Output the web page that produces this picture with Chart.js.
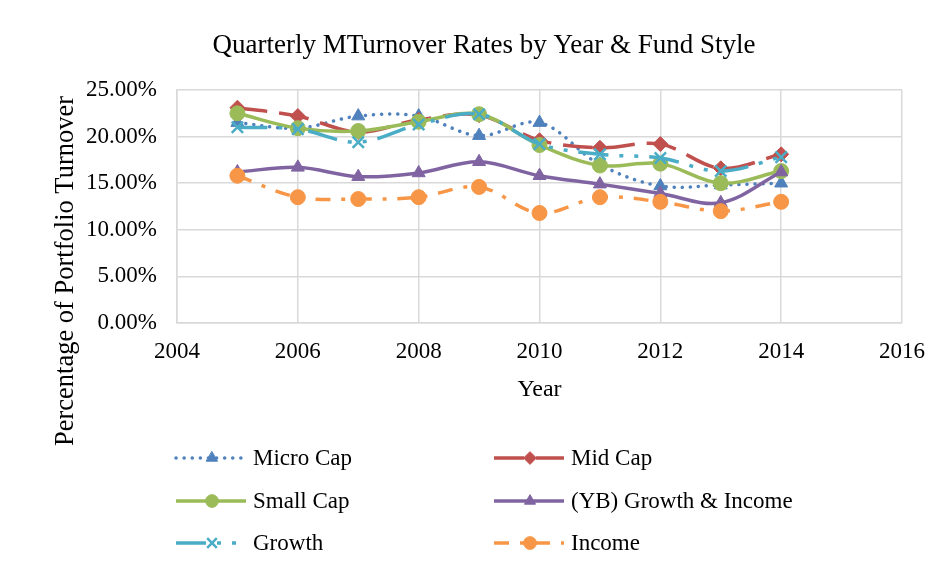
<!DOCTYPE html>
<html lang="en">
<head>
  <meta charset="UTF-8" />
  <title>Quarterly MTurnover Rates by Year & Fund Style</title>
  <script src="https://cdn.jsdelivr.net/npm/chart.js"></script>
  <style>
    body {
      margin: 0;
      padding: 0;
      background-color: #ffffff;
    }

    .chart-container {
      position: relative;
      width: 940px;
      height: 573px;
    }
  </style>
</head>
<body>
  <div class="chart-container">
    <canvas id="turnoverChart"></canvas>
  </div>

  <script>
    // Data (values in percent)
    const years = [2005, 2006, 2007, 2008, 2009, 2010, 2011, 2012, 2013, 2014];
    const microCap = [21.5, 20.9, 22.2, 22.2, 20.1, 21.5, 17.0, 14.7, 14.8, 15.0];
    const midCap = [23.1, 22.2, 20.5, 21.8, 22.3, 19.6, 18.8, 19.2, 16.6, 18.1];
    const smallCap = [22.5, 20.9, 20.6, 21.6, 22.4, 19.1, 16.9, 17.1, 15.0, 16.3];
    const ybGrowthIncome = [16.2, 16.7, 15.7, 16.1, 17.3, 15.8, 14.9, 13.9, 12.9, 16.2];
    const growth = [21.0, 20.8, 19.4, 21.3, 22.4, 19.2, 18.1, 17.7, 16.3, 17.8];
    const income = [15.8, 13.5, 13.3, 13.5, 14.6, 11.8, 13.5, 13.0, 12.0, 13.0];

    const seriesNames = ['Micro Cap', 'Mid Cap', 'Small Cap', '(YB) Growth & Income', 'Growth', 'Income'];
    const xTicks = [2004, 2006, 2008, 2010, 2012, 2014, 2016];
    const yTicks = [0, 5, 10, 15, 20, 25];

    const chartTitle = 'Quarterly MTurnover Rates by Year & Fund Style';
    const yTitle = 'Percentage of Portfolio Turnover';

    const FONT = '"Liberation Serif", "Times New Roman", serif';
    const GRID = '#d9d9d9';

    function toPoints(values) {
      return values.map((v, i) => ({ x: years[i], y: v }));
    }

    function makeSeries(index, values, color, dash, pointStyle, radius, cap) {
      return {
        label: seriesNames[index],
        data: toPoints(values),
        borderColor: color,
        backgroundColor: color,
        borderWidth: 3.5,
        borderDash: dash,
        borderCapStyle: cap || 'butt',
        pointStyle: pointStyle,
        pointRadius: radius,
        pointHoverRadius: radius,
        pointBackgroundColor: color,
        pointBorderColor: color,
        pointBorderWidth: pointStyle === 'crossRot' ? 2.5 : 1,
        tension: 0.35,
        fill: false,
        order: 5 - index
      };
    }

    const datasets = [
      makeSeries(0, microCap, '#4f81bd', [0.1, 8], 'triangle', 7.5, 'round'),
      makeSeries(1, midCap, '#c0504d', [30, 12], 'rectRot', 7.5),
      makeSeries(2, smallCap, '#9bbb59', [], 'circle', 7.5),
      makeSeries(3, ybGrowthIncome, '#8064a2', [], 'triangle', 7.5),
      makeSeries(4, growth, '#4bacc6', [30, 11, 4, 11, 4, 11], 'crossRot', 8),
      makeSeries(5, income, '#f79646', [15, 11, 4, 11], 'circle', 7.5)
    ];

    // Two-column legend below the plot, like the original
    const legendColumns = [176, 494];
    const legendRows = [458, 501, 543];

    const gridLegend = {
      id: 'gridLegend',
      afterDraw(chart) {
        const ctx = chart.ctx;

        // chart title and y axis title (sit off-centre in the original)
        ctx.save();
        ctx.fillStyle = '#000';
        ctx.textAlign = 'center';
        ctx.textBaseline = 'middle';
        ctx.font = '27px ' + FONT;
        ctx.fillText(chartTitle, 484, 46);
        ctx.translate(66, 271);
        ctx.rotate(-Math.PI / 2);
        ctx.font = '26.5px ' + FONT;
        ctx.fillText(yTitle, 0, 0);
        ctx.restore();

        chart.data.datasets.forEach((ds, i) => {
          const x0 = legendColumns[i % 2];
          const y = legendRows[Math.floor(i / 2)];
          ctx.save();
          ctx.strokeStyle = ds.borderColor;
          ctx.lineWidth = 3.5;
          ctx.lineCap = ds.borderCapStyle;
          ctx.setLineDash(ds.borderDash);
          ctx.beginPath();
          ctx.moveTo(x0, y);
          ctx.lineTo(x0 + 70, y);
          ctx.stroke();
          ctx.setLineDash([]);
          ctx.fillStyle = ds.pointBackgroundColor;
          ctx.strokeStyle = ds.pointBorderColor;
          ctx.lineWidth = ds.pointBorderWidth;
          Chart.helpers.drawPoint(ctx, {
            pointStyle: ds.pointStyle,
            radius: ds.pointRadius * 0.85,
            rotation: 0,
            borderWidth: ds.pointBorderWidth
          }, x0 + 36, y);
          ctx.fillStyle = '#000';
          ctx.font = '23px ' + FONT;
          ctx.textBaseline = 'middle';
          ctx.textAlign = 'left';
          ctx.fillText(ds.label, x0 + 77, y + 1);
          ctx.restore();
        });
      }
    };

    const ctx = document.getElementById('turnoverChart').getContext('2d');

    new Chart(ctx, {
      type: 'line',
      data: { datasets: datasets },
      plugins: [gridLegend],
      options: {
        responsive: true,
        maintainAspectRatio: false,
        animation: false,
        layout: {
          padding: { left: 0, right: 38, top: 90, bottom: 163 }
        },
        scales: {
          x: {
            type: 'linear',
            min: 2004,
            max: 2016,
            afterBuildTicks: (scale) => {
              scale.ticks = xTicks.map(v => ({ value: v }));
            },
            afterFit: (scale) => { scale.height = 87; },
            grid: { color: GRID, lineWidth: 1.5, drawTicks: false },
            border: { color: GRID, width: 1.5 },
            ticks: {
              color: '#000',
              padding: 15,
              font: { family: FONT, size: 23 },
              callback: (v) => String(v)
            },
            title: {
              display: true,
              text: 'Year',
              color: '#000',
              font: { family: FONT, size: 24 },
              padding: { top: 0, bottom: 6 }
            }
          },
          y: {
            min: 0,
            max: 25,
            afterBuildTicks: (scale) => {
              scale.ticks = yTicks.map(v => ({ value: v }));
            },
            afterFit: (scale) => { scale.width = 177; },
            grid: { color: GRID, lineWidth: 1.5, drawTicks: false },
            border: { color: GRID, width: 1.5 },
            ticks: {
              color: '#000',
              padding: 20,
              font: { family: FONT, size: 23 },
              callback: (v) => v.toFixed(2) + '%'
            },
            title: { display: false }
          }
        },
        plugins: {
          legend: { display: false },
          tooltip: { enabled: false },
          title: { display: false }
        }
      }
    });
  </script>
</body>
</html>
